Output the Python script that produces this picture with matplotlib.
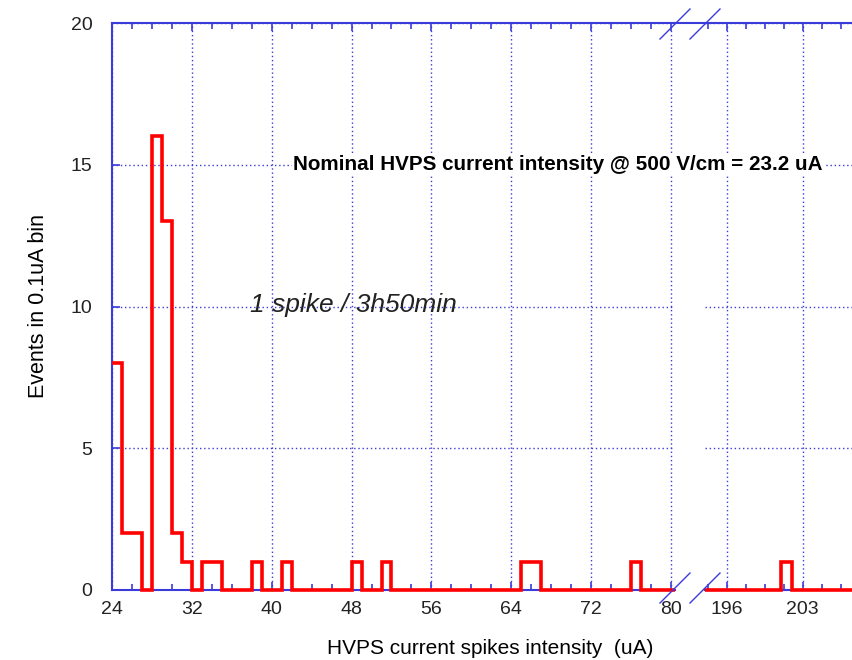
import numpy as np
import matplotlib.pyplot as plt
from matplotlib.lines import Line2D
from matplotlib.ticker import MultipleLocator, FixedLocator

plt.rcParams['font.family'] = ['Liberation Sans', 'DejaVu Sans']

# histogram of spike intensities (1 uA wide steps as drawn)
left_bins = [24, 25, 26, 28, 29, 30, 31, 33, 34, 38, 41, 48, 51, 65, 66, 76]
left_counts = [8, 2, 2, 16, 13, 2, 1, 1, 1, 1, 1, 1, 1, 1, 1, 1]
right_bins = [201]
right_counts = [1]

x_ticks_left = [24, 32, 40, 48, 56, 64, 72, 80]
x_ticks_right = [196, 203]
y_ticks = [0, 5, 10, 15, 20]

blue = '#3b3bdc'
red = '#ff0000'


def hist_from(bins, counts, lo, hi):
    # 1 uA steps from lo, last step stretched to the axis end
    edges = np.arange(lo, int(np.ceil(hi)) + 1, dtype=float)
    vals = np.zeros(len(edges) - 1)
    for b, c in zip(bins, counts):
        vals[b - lo] = c
    edges[-1] = hi
    return edges, vals


fig = plt.figure(figsize=(8.52, 6.6), dpi=100)
W, H = 852, 660
ax1 = fig.add_axes([112 / W, 1 - 590 / H, 563 / W, 567 / H])
ax2 = fig.add_axes([705 / W, 1 - 590 / H, 147 / W, 567 / H])

xl1 = (24, 24 + 563 / 9.982)
xl2 = (194, 194 + 147 / 10.86)
ax1.set_xlim(*xl1)
ax2.set_xlim(*xl2)
for ax in (ax1, ax2):
    ax.set_ylim(0, 20)
    ax.yaxis.set_major_locator(FixedLocator(y_ticks))
    ax.grid(True, color=blue, linestyle=(0, (1, 2)), linewidth=1)
    ax.set_axisbelow(True)
    for s in ax.spines.values():
        s.set_color(blue)
        s.set_linewidth(1.5)
    ax.spines['right'].set_visible(False)
    ax.tick_params(which='both', direction='in', top=True, color=blue,
                   labelsize=14, labelcolor='#222222', width=1.2)
    ax.tick_params(which='major', length=6, pad=8)
    ax.tick_params(which='minor', length=4)

ax1.xaxis.set_major_locator(FixedLocator(x_ticks_left))
ax1.xaxis.set_minor_locator(MultipleLocator(2))
ax1.tick_params(axis='y', pad=14)
ax2.xaxis.set_major_locator(FixedLocator(x_ticks_right))
ax2.xaxis.set_minor_locator(MultipleLocator(1.75))
ax2.spines['left'].set_visible(False)
ax2.tick_params(axis='y', left=False, labelleft=False)

e, v = hist_from(left_bins, left_counts, 24, xl1[1])
ax1.stairs(v, e, baseline=None, color=red, linewidth=2.6, clip_on=False, zorder=5)
e, v = hist_from(right_bins, right_counts, 194, xl2[1])
ax2.stairs(v, e, baseline=None, color=red, linewidth=2.6, clip_on=False, zorder=5)

ax1.set_ylabel('Events in 0.1uA bin', fontsize=15.5, labelpad=16)
fig.text(490 / W, 1 - 648 / H, 'HVPS current spikes intensity  (uA)',
         fontsize=15, ha='center', va='center')


def fline(p0, p1, lw=1.0):
    fig.add_artist(Line2D([p0[0] / W, p1[0] / W], [1 - p0[1] / H, 1 - p1[1] / H],
                          color=blue, linewidth=lw, transform=fig.transFigure))


# top spine through the gap and the break marks
fline((675, 23), (705, 23), 1.5)
for x0 in (660, 690):
    fline((x0, 39), (x0 + 30, 9))
    fline((x0, 603), (x0 + 30, 573))

fig.text(293 / W, 1 - 165 / H,
         'Nominal HVPS current intensity @ 500 V/cm = 23.2 uA',
         fontsize=14.9, fontweight='bold', ha='left', va='center', zorder=10,
         bbox=dict(facecolor='white', edgecolor='none', pad=1))
fig.text(250 / W, 1 - 305 / H, '1 spike / 3h50min', fontsize=19,
         style='italic', color='#222222', va='center')

fig.savefig('out.png', dpi=100)
